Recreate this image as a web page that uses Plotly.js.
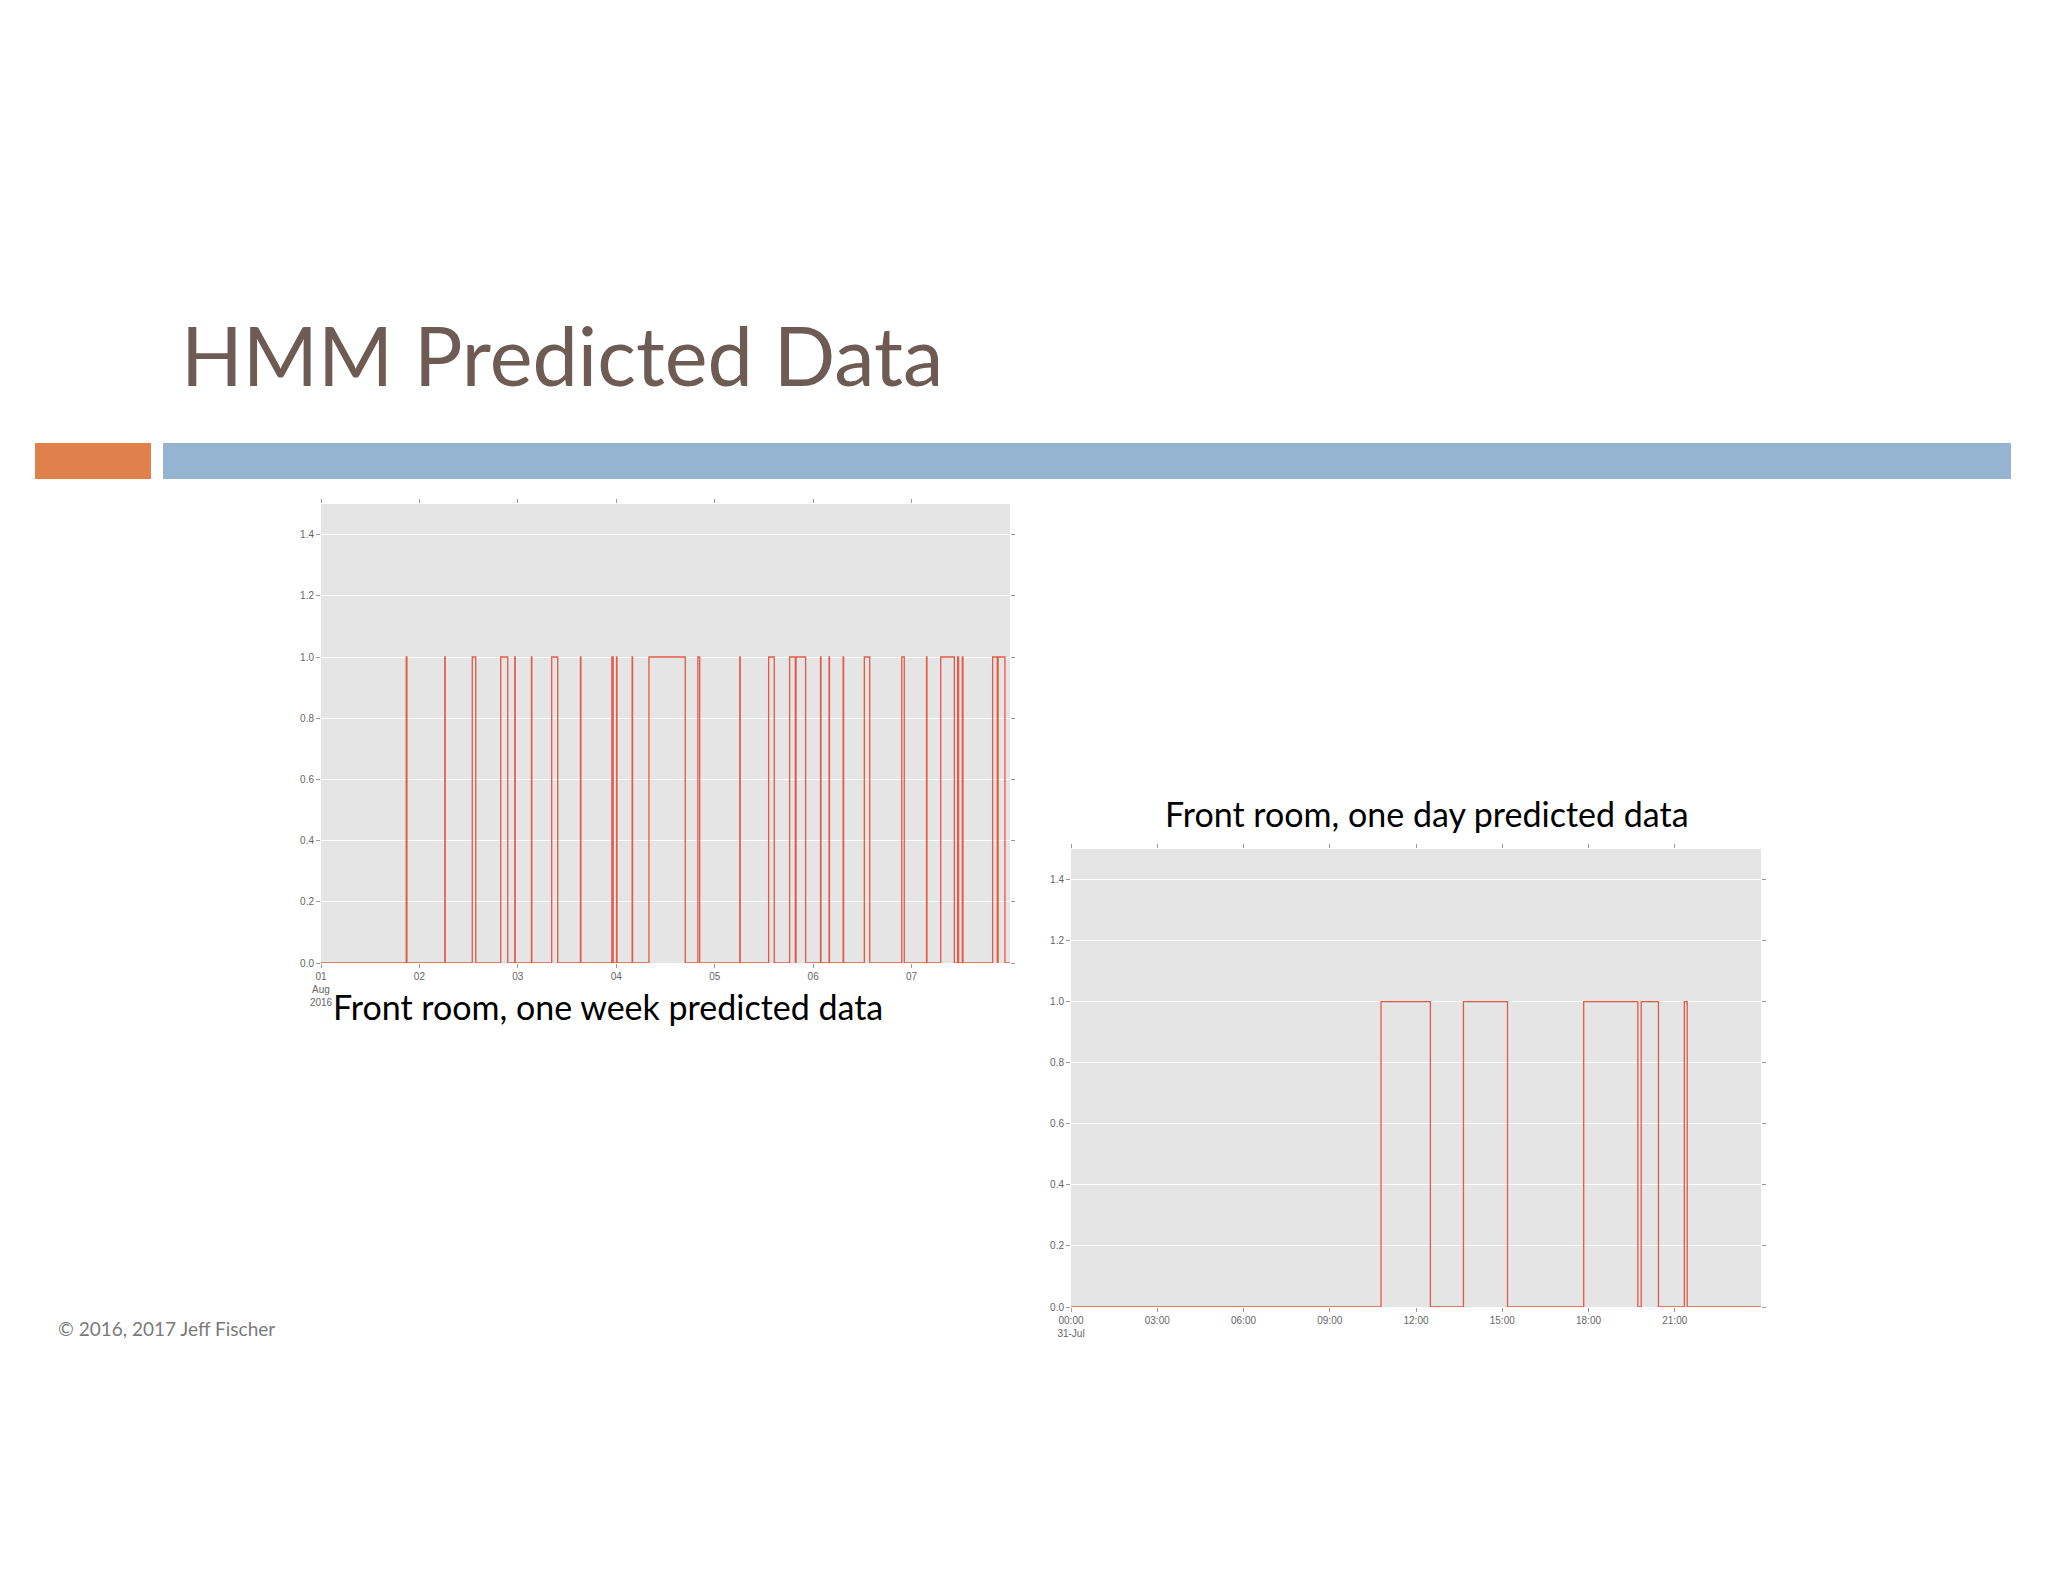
<!DOCTYPE html>
<html>
<head>
<meta charset="utf-8">
<script src="https://cdn.plot.ly/plotly-3.0.1.min.js"></script>
<style>
  html, body { margin: 0; padding: 0; background: #ffffff; }
  #chart { width: 2048px; height: 1582px; }
</style>
</head>
<body>
<div id="chart"></div>
<script>
// ---- Data ----
// One week of predicted occupancy (0 = empty, 1 = occupied), step changes
var weekTimes = [
  '2016-08-01 00:00',
  '2016-08-01 20:47', '2016-08-01 20:57',
  '2016-08-02 06:11', '2016-08-02 06:17',
  '2016-08-02 12:53', '2016-08-02 13:44',
  '2016-08-02 19:49', '2016-08-02 21:32',
  '2016-08-02 23:15', '2016-08-02 23:21',
  '2016-08-03 03:19', '2016-08-03 03:24',
  '2016-08-03 08:15', '2016-08-03 09:43',
  '2016-08-03 15:16', '2016-08-03 15:22',
  '2016-08-03 22:55', '2016-08-03 23:14',
  '2016-08-04 00:04', '2016-08-04 00:10',
  '2016-08-04 03:52', '2016-08-04 03:58',
  '2016-08-04 07:58', '2016-08-04 16:49',
  '2016-08-04 19:54', '2016-08-04 20:20',
  '2016-08-05 06:07', '2016-08-05 06:13',
  '2016-08-05 13:09', '2016-08-05 14:31',
  '2016-08-05 18:16', '2016-08-05 19:39',
  '2016-08-05 19:50', '2016-08-05 22:10',
  '2016-08-06 01:48', '2016-08-06 01:54',
  '2016-08-06 03:53', '2016-08-06 03:59',
  '2016-08-06 07:19', '2016-08-06 07:26',
  '2016-08-06 12:29', '2016-08-06 13:48',
  '2016-08-06 21:36', '2016-08-06 22:13',
  '2016-08-07 03:39', '2016-08-07 03:45',
  '2016-08-07 07:06', '2016-08-07 10:26',
  '2016-08-07 11:14', '2016-08-07 11:28',
  '2016-08-07 12:22', '2016-08-07 12:32',
  '2016-08-07 19:46', '2016-08-07 20:54',
  '2016-08-07 21:06', '2016-08-07 22:46',
  '2016-08-08 00:00'
];
var weekStates = [
  0,
  1, 0,
  1, 0,
  1, 0,
  1, 0,
  1, 0,
  1, 0,
  1, 0,
  1, 0,
  1, 0,
  1, 0,
  1, 0,
  1, 0,
  1, 0,
  1, 0,
  1, 0,
  1, 0,
  1, 0,
  1, 0,
  1, 0,
  1, 0,
  1, 0,
  1, 0,
  1, 0,
  1, 0,
  1, 0,
  1, 0,
  1, 0,
  1, 0,
  0
];

// One day of predicted occupancy
var dayTimes = [
  '2016-07-31 00:00',
  '2016-07-31 10:47', '2016-07-31 12:30',
  '2016-07-31 13:39', '2016-07-31 15:11',
  '2016-07-31 17:50', '2016-07-31 19:43',
  '2016-07-31 19:50', '2016-07-31 20:26',
  '2016-07-31 21:20', '2016-07-31 21:26',
  '2016-08-01 00:00'
];
var dayStates = [0, 1, 0, 1, 0, 1, 0, 1, 0, 1, 0, 0];

// Tick labels
var weekTickVals = ['2016-08-01', '2016-08-02', '2016-08-03', '2016-08-04', '2016-08-05', '2016-08-06', '2016-08-07'];
var weekTickText = ['01<br>Aug<br>2016', '02', '03', '04', '05', '06', '07'];
var dayTickVals = ['2016-07-31 00:00', '2016-07-31 03:00', '2016-07-31 06:00', '2016-07-31 09:00',
                   '2016-07-31 12:00', '2016-07-31 15:00', '2016-07-31 18:00', '2016-07-31 21:00'];
var dayTickText = ['00:00<br>31-Jul', '03:00', '06:00', '09:00', '12:00', '15:00', '18:00', '21:00'];
var yTickVals = [0, 0.2, 0.4, 0.6, 0.8, 1.0, 1.2, 1.4];
var yTickText = ['0.0', '0.2', '0.4', '0.6', '0.8', '1.0', '1.2', '1.4'];

// Texts
var slideTitle = 'HMM Predicted Data';
var weekCaption = 'Front room, one week predicted data';
var dayCaption = 'Front room, one day predicted data';
var footer = '\u00A9 2016, 2017 Jeff Fischer';

// ---- Layout helpers (page pixel -> paper fraction) ----
var W = 2048, H = 1582;
function px(x) { return x / W; }
function py(y) { return 1 - y / H; }

var lineStyle = { color: '#E24A33', width: 1.3, shape: 'hv' };
var tickFont = { family: 'Liberation Sans, DejaVu Sans, sans-serif', size: 10, color: '#666666' };
var slideFont = 'Lato, "Noto Sans", sans-serif';

var traces = [
  { x: weekTimes, y: weekStates, type: 'scatter', mode: 'lines', line: lineStyle,
    xaxis: 'x', yaxis: 'y', hoverinfo: 'skip', opacity: 0.9 },
  { x: dayTimes, y: dayStates, type: 'scatter', mode: 'lines', line: lineStyle,
    xaxis: 'x2', yaxis: 'y2', hoverinfo: 'skip', opacity: 0.9 }
];

function xAxis(domain, anchor, range, vals, text) {
  return {
    type: 'date', domain: domain, anchor: anchor, range: range,
    tickmode: 'array', tickvals: vals, ticktext: text,
    showgrid: false, zeroline: false, showline: false,
    ticks: 'outside', ticklen: 4, tickwidth: 1, tickcolor: '#9a9a9a',
    mirror: 'ticks', tickfont: tickFont, fixedrange: true
  };
}
function yAxis(domain, anchor) {
  return {
    domain: domain, anchor: anchor, range: [0, 1.5],
    tickmode: 'array', tickvals: yTickVals, ticktext: yTickText,
    showgrid: true, gridcolor: '#ffffff', gridwidth: 1,
    zeroline: false, showline: false,
    ticks: 'outside', ticklen: 4, tickwidth: 1, tickcolor: '#9a9a9a',
    mirror: 'ticks', tickfont: tickFont, fixedrange: true
  };
}

var layout = {
  width: W, height: H,
  margin: { l: 0, r: 0, t: 0, b: 0 },
  paper_bgcolor: '#ffffff',
  plot_bgcolor: '#E5E5E5',
  showlegend: false,
  hovermode: false,
  xaxis: xAxis([px(321), px(1010)], 'y', ['2016-08-01 00:00', '2016-08-08 00:00'], weekTickVals, weekTickText),
  yaxis: yAxis([py(963), py(504)], 'x'),
  xaxis2: xAxis([px(1071), px(1761)], 'y2', ['2016-07-31 00:00', '2016-08-01 00:00'], dayTickVals, dayTickText),
  yaxis2: yAxis([py(1307), py(849)], 'x2'),
  shapes: [
    { type: 'rect', xref: 'paper', yref: 'paper', x0: px(35), x1: px(151), y0: py(479), y1: py(443),
      fillcolor: '#E0804A', line: { width: 0 }, layer: 'below' },
    { type: 'rect', xref: 'paper', yref: 'paper', x0: px(163), x1: px(2011), y0: py(479), y1: py(443),
      fillcolor: '#95B4D1', line: { width: 0 }, layer: 'below' }
  ],
  annotations: [
    { text: slideTitle, xref: 'paper', yref: 'paper', x: px(179), y: py(354),
      xanchor: 'left', yanchor: 'middle', showarrow: false,
      font: { family: slideFont, size: 81, color: '#6E5B53' } },
    { text: weekCaption, xref: 'paper', yref: 'paper', x: px(331), y: py(1006),
      xanchor: 'left', yanchor: 'middle', showarrow: false,
      font: { family: slideFont, size: 34, color: '#000000' } },
    { text: dayCaption, xref: 'paper', yref: 'paper', x: px(1163), y: py(813),
      xanchor: 'left', yanchor: 'middle', showarrow: false,
      font: { family: slideFont, size: 34, color: '#000000' } },
    { text: footer, xref: 'paper', yref: 'paper', x: px(56), y: py(1328),
      xanchor: 'left', yanchor: 'middle', showarrow: false,
      font: { family: slideFont, size: 19, color: '#7a7a7a' } }
  ]
};

Plotly.newPlot('chart', traces, layout, { displayModeBar: false, staticPlot: true });
</script>
</body>
</html>
